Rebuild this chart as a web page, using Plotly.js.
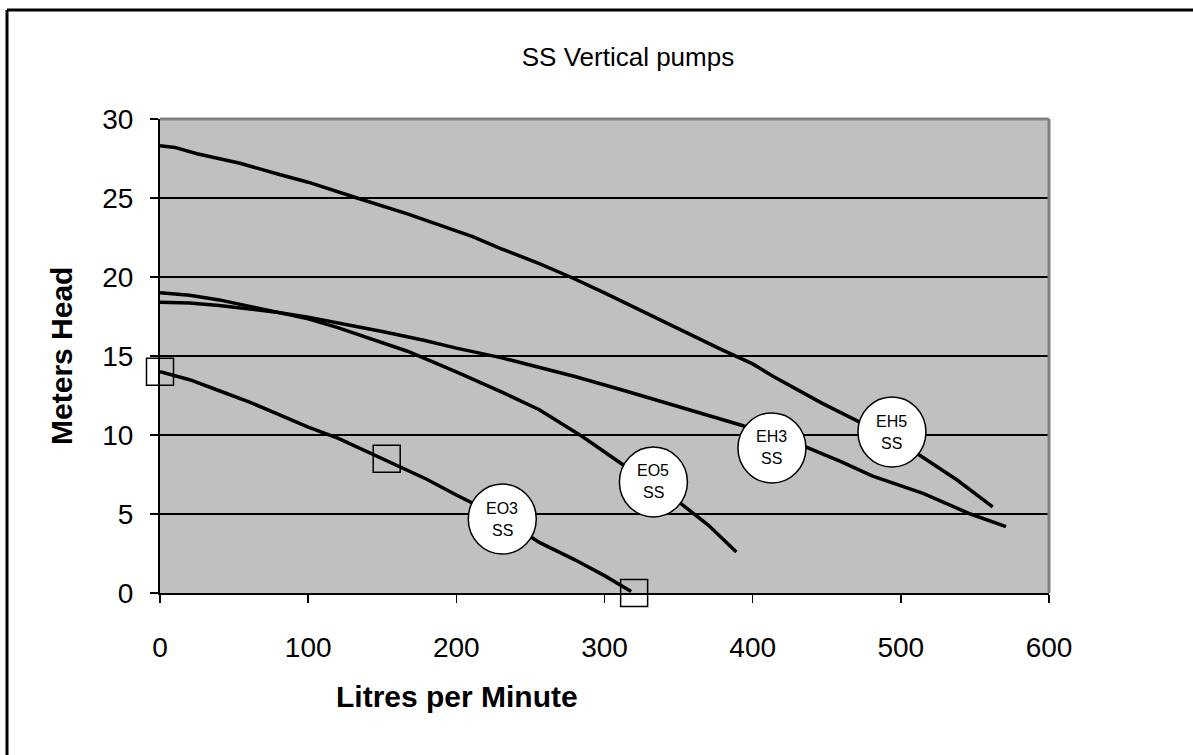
<!DOCTYPE html>
<html>
<head>
<meta charset="utf-8">
<script src="https://cdn.plot.ly/plotly-3.0.1.min.js"></script>
<style>
  html, body { margin: 0; padding: 0; background: #ffffff; }
  #chart { width: 1193px; height: 755px; }
</style>
</head>
<body>
<div id="chart"></div>
<script>
// ---- data ----
const eo3X = [0, 20, 40, 60, 80, 100, 120, 150, 180, 200, 230, 256, 280, 300, 318];
const eo3Y = [14.0, 13.5, 12.8, 12.1, 11.3, 10.5, 9.8, 8.5, 7.2, 6.2, 4.8, 3.2, 2.1, 1.1, 0.1];

const eo5X = [0, 20, 40, 60, 80, 100, 120, 144, 167, 200, 230, 256, 285, 312, 330, 351, 370, 389];
const eo5Y = [19.0, 18.85, 18.55, 18.15, 17.8, 17.35, 16.8, 16.05, 15.3, 14.0, 12.75, 11.6, 9.9, 8.15, 7.0, 5.7, 4.3, 2.6];

const eh3X = [0, 20, 40, 60, 80, 100, 120, 150, 178, 200, 230, 256, 280, 312, 342, 364, 393, 415, 437, 460, 481, 515, 547, 571];
const eh3Y = [18.4, 18.35, 18.2, 18.0, 17.75, 17.45, 17.1, 16.55, 16.0, 15.5, 14.9, 14.3, 13.7, 12.85, 12.0, 11.4, 10.6, 9.9, 9.2, 8.3, 7.4, 6.3, 5.0, 4.2];

const eh5X = [0, 10, 25, 54, 80, 100, 133, 167, 211, 230, 256, 277, 300, 324, 358, 379, 400, 414, 447, 470, 494, 513, 538, 562];
const eh5Y = [28.3, 28.2, 27.8, 27.2, 26.5, 26.0, 25.0, 24.0, 22.55, 21.8, 20.85, 20.0, 19.0, 17.9, 16.4, 15.4, 14.5, 13.7, 12.0, 10.95, 9.8, 8.7, 7.15, 5.45];

const markerX = [0, 153, 320];
const markerY = [14.0, 8.5, 0];

const labelTop = ["EO3", "EO5", "EH3", "EH5"];
const labelBottom = ["SS", "SS", "SS", "SS"];
const labelX = [231, 333, 413, 494];
const labelY = [4.68, 7.03, 9.18, 10.19];

const xTicks = [0, 100, 200, 300, 400, 500, 600];
const yTicks = [0, 5, 10, 15, 20, 25, 30];

// ---- traces ----
const FONT = 'Arial, Liberation Sans, sans-serif';
const lineStyle = { color: '#000000', width: 3.5 };
const traces = [
  { x: eo3X, y: eo3Y, mode: 'lines', line: lineStyle, name: 'EO3 SS', showlegend: false },
  { x: eo5X, y: eo5Y, mode: 'lines', line: lineStyle, name: 'EO5 SS', showlegend: false },
  { x: eh3X, y: eh3Y, mode: 'lines', line: lineStyle, name: 'EH3 SS', showlegend: false },
  { x: eh5X, y: eh5Y, mode: 'lines', line: lineStyle, name: 'EH5 SS', showlegend: false },
  { x: markerX, y: markerY, mode: 'markers', cliponaxis: false, showlegend: false,
    marker: { symbol: 'square-open', size: 27, color: '#000000', line: { width: 1.5, color: '#000000' } } }
];

// ---- label bubbles ----
const shapes = [];
const annotations = [];
for (let i = 0; i < labelTop.length; i++) {
  shapes.push({
    type: 'circle', xref: 'x', yref: 'y', xsizemode: 'pixel', ysizemode: 'pixel',
    xanchor: labelX[i], yanchor: labelY[i], x0: -34, x1: 34, y0: -35, y1: 35,
    fillcolor: '#ffffff', line: { color: '#000000', width: 1.5 }, layer: 'above'
  });
  annotations.push({ x: labelX[i], y: labelY[i], xref: 'x', yref: 'y', text: labelTop[i], showarrow: false,
    yshift: 11, font: { family: FONT, size: 16, color: '#000' } });
  annotations.push({ x: labelX[i], y: labelY[i], xref: 'x', yref: 'y', text: labelBottom[i], showarrow: false,
    yshift: -11, font: { family: FONT, size: 16, color: '#000' } });
}

// plot area border (gray top/right)
shapes.push({ type: 'line', xref: 'paper', yref: 'paper', x0: 0, x1: 1, y0: 1, y1: 1, line: { color: '#808080', width: 3 }, layer: 'above' });
shapes.push({ type: 'line', xref: 'paper', yref: 'paper', x0: 1, x1: 1, y0: 0, y1: 1, line: { color: '#808080', width: 3 }, layer: 'above' });
// outer chart frame
shapes.push({ type: 'line', xref: 'paper', yref: 'paper', x0: -0.1721, x1: 1.2, y0: 1.2300, y1: 1.2300, line: { color: '#000000', width: 3 } });
shapes.push({ type: 'line', xref: 'paper', yref: 'paper', x0: -0.1721, x1: -0.1721, y0: -0.4, y1: 1.2300, line: { color: '#000000', width: 3 } });

// axis titles
annotations.push({ xref: 'paper', yref: 'paper', x: 0.334, y: -0.2194, xanchor: 'center', yanchor: 'middle',
  text: '<b>Litres per Minute</b>', showarrow: false,
  font: { family: FONT, size: 30, color: '#000' } });
annotations.push({ xref: 'paper', yref: 'paper', x: -0.1114, y: 0.5, xanchor: 'center', yanchor: 'middle',
  text: '<b>Meters Head</b>', showarrow: false, textangle: -90,
  font: { family: FONT, size: 30, color: '#000' } });

const layout = {
  width: 1193, height: 755,
  margin: { l: 160, r: 144, t: 119, b: 162 },
  paper_bgcolor: '#ffffff',
  plot_bgcolor: '#c0c0c0',
  title: { text: 'SS Vertical pumps', x: 0.5264, xref: 'container', y: 0.9245, yref: 'container',
    xanchor: 'center', yanchor: 'middle',
    font: { family: FONT, size: 26, color: '#000' } },
  xaxis: {
    range: [0, 600], tickvals: xTicks, ticktext: xTicks.map(String),
    showgrid: false, zeroline: false,
    showline: true, linecolor: '#000', linewidth: 2,
    ticks: 'outside', ticklen: 8, tickwidth: 1.5, tickcolor: '#000',
    ticklabelstandoff: 20,
    tickfont: { family: FONT, size: 28, color: '#000' },
    fixedrange: true
  },
  yaxis: {
    range: [0, 30], tickvals: yTicks, ticktext: yTicks.map(String),
    showgrid: true, gridcolor: '#000', gridwidth: 1.5, zeroline: false,
    showline: true, linecolor: '#000', linewidth: 2,
    ticks: 'outside', ticklen: 8, tickwidth: 1.5, tickcolor: '#000',
    ticklabelstandoff: 11,
    tickfont: { family: FONT, size: 28, color: '#000' },
    fixedrange: true
  },
  shapes: shapes,
  annotations: annotations,
  showlegend: false
};

Plotly.newPlot('chart', traces, layout, { displayModeBar: false, staticPlot: true });
</script>
</body>
</html>
